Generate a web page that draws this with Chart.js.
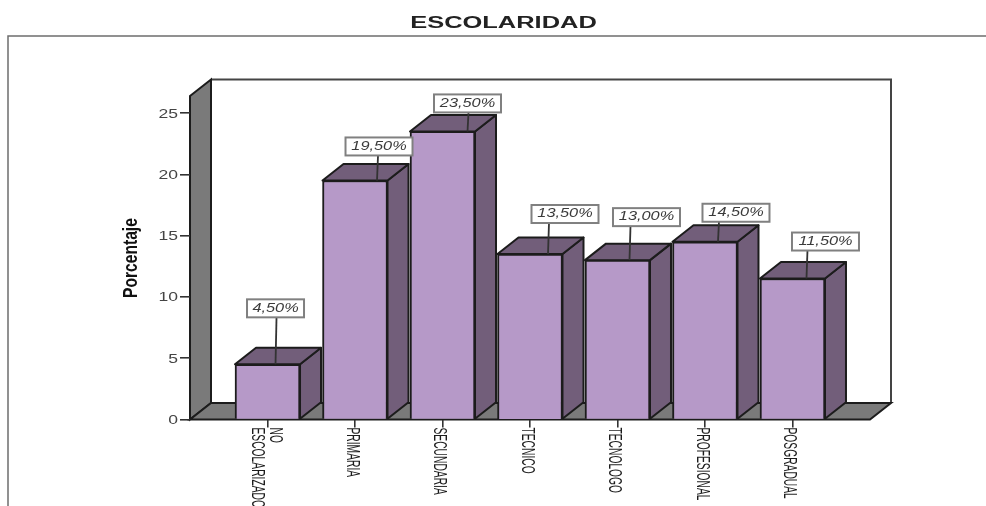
<!DOCTYPE html>
<html>
<head>
<meta charset="utf-8">
<title>Escolaridad</title>
<script src="https://cdn.jsdelivr.net/npm/chart.js@4"></script>
<style>
  html, body { margin: 0; padding: 0; background: #fff; overflow: hidden; }
  canvas { display: block; }
</style>
</head>
<body>
<canvas id="barChart" width="986" height="506"></canvas>
<script>
const categories = [['NO', 'ESCOLARIZADO'], ['PRIMARIA'], ['SECUNDARIA'], ['TECNICO'], ['TECNOLOGO'], ['PROFESIONAL'], ['POSGRADUAL']];
const porcentajes = [4.5, 19.5, 23.5, 13.5, 13.0, 14.5, 11.5];
const yTicks = [0, 5, 10, 15, 20, 25];

// callout placement per bar: box centre shift, gap above the bar, leader foot shift
const calloutDx = [8, 24, 25, 35, 29, 31, 33];
const calloutGap = [47, 25, 19, 31, 34, 20, 28];
const leaderDx = [8, 22, 25, 18, 12, 13, 14];

const DEPTH_X = 21;
const DEPTH_Y = 16.5;
const INK = '#1c1c1c';

// all text in this chart is stretched on one axis, so it goes through here
function stretchedText(ctx, text, x, y, opts) {
    ctx.save();
    ctx.translate(x, y);
    ctx.rotate(opts.rotation || 0);
    ctx.scale(opts.sx || 1, 1);
    ctx.font = opts.font;
    ctx.fillStyle = opts.color || '#333';
    ctx.textAlign = opts.align || 'center';
    ctx.textBaseline = 'middle';
    ctx.fillText(text, 0, 0);
    ctx.restore();
}

function poly(ctx, pts, fill) {
    ctx.beginPath();
    pts.forEach((p, i) => i ? ctx.lineTo(p[0], p[1]) : ctx.moveTo(p[0], p[1]));
    ctx.closePath();
    ctx.fillStyle = fill;
    ctx.fill();
    ctx.lineWidth = 2;
    ctx.strokeStyle = INK;
    ctx.stroke();
}

const box3d = {
    id: 'box3d',
    beforeDraw(chart) {
        const { ctx, chartArea: a } = chart;
        ctx.save();
        // outer frame, open on the right and bottom
        ctx.strokeStyle = '#6e6e6e';
        ctx.lineWidth = 1.5;
        ctx.beginPath();
        ctx.moveTo(8, 506);
        ctx.lineTo(8, 36);
        ctx.lineTo(986, 36);
        ctx.stroke();

        // back wall
        ctx.strokeStyle = '#444';
        ctx.lineWidth = 2;
        ctx.beginPath();
        ctx.moveTo(a.left + DEPTH_X, a.top - DEPTH_Y);
        ctx.lineTo(a.right + DEPTH_X, a.top - DEPTH_Y);
        ctx.lineTo(a.right + DEPTH_X, a.bottom - DEPTH_Y);
        ctx.stroke();

        // left wall and floor
        poly(ctx, [[a.left, a.top], [a.left + DEPTH_X, a.top - DEPTH_Y], [a.left + DEPTH_X, a.bottom - DEPTH_Y], [a.left, a.bottom]], '#7a7a7a');
        poly(ctx, [[a.left, a.bottom], [a.right, a.bottom], [a.right + DEPTH_X, a.bottom - DEPTH_Y], [a.left + DEPTH_X, a.bottom - DEPTH_Y]], '#7a7a7a');
        ctx.restore();
    },
    beforeDatasetsDraw(chart) {
        const ctx = chart.ctx;
        ctx.save();
        ctx.lineJoin = 'round';
        chart.getDatasetMeta(0).data.forEach(bar => {
            const left = bar.x - bar.width / 2;
            const right = bar.x + bar.width / 2;
            poly(ctx, [[right, bar.y], [right + DEPTH_X, bar.y - DEPTH_Y], [right + DEPTH_X, bar.base - DEPTH_Y], [right, bar.base]], '#725e7a');
            poly(ctx, [[left, bar.y], [left + DEPTH_X, bar.y - DEPTH_Y], [right + DEPTH_X, bar.y - DEPTH_Y], [right, bar.y]], '#725e7a');
        });
        ctx.restore();
    },
    afterDraw(chart) {
        const { ctx, chartArea: a, scales: { x, y } } = chart;

        stretchedText(ctx, 'ESCOLARIDAD', 503.5, 24, { font: 'bold 16px "Liberation Sans"', sx: 1.59, color: '#222' });
        stretchedText(ctx, 'Porcentaje', 131, 258, { font: 'bold 20px "Liberation Sans"', sx: 0.78, rotation: -Math.PI / 2, color: '#111' });

        yTicks.forEach(t => {
            stretchedText(ctx, String(t), 178, y.getPixelForValue(t) + 1, { font: '13px "Liberation Sans"', sx: 1.35, align: 'right', color: '#444' });
        });

        // category names run downwards from the tick
        categories.forEach((lines, i) => {
            const cx = x.getPixelForValue(i);
            const opts = { font: '19px "Liberation Sans"', sx: 0.54, rotation: Math.PI / 2, align: 'left', color: '#1c1c1c' };
            if (lines.length > 1) {
                stretchedText(ctx, lines[0], cx + 8, a.bottom + 8, opts);
                stretchedText(ctx, lines[1], cx - 10.5, a.bottom + 8, opts);
            } else {
                stretchedText(ctx, lines[0], cx - 3, a.bottom + 8, opts);
            }
        });

        // value callouts with leader lines
        chart.getDatasetMeta(0).data.forEach((bar, i) => {
            const label = porcentajes[i].toFixed(2).replace('.', ',') + '%';
            const w = porcentajes[i] < 10 ? 57 : 67;
            const h = 18;
            const cx = bar.x + calloutDx[i];
            const bottom = bar.y - calloutGap[i];

            ctx.save();
            ctx.strokeStyle = '#333';
            ctx.lineWidth = 1.8;
            ctx.beginPath();
            ctx.moveTo(bar.x + leaderDx[i] + 1, bottom);
            ctx.lineTo(bar.x + leaderDx[i], bar.y);
            ctx.stroke();
            ctx.fillStyle = '#fff';
            ctx.strokeStyle = '#808080';
            ctx.lineWidth = 2;
            ctx.fillRect(cx - w / 2, bottom - h, w, h);
            ctx.strokeRect(cx - w / 2, bottom - h, w, h);
            ctx.restore();

            stretchedText(ctx, label, cx, bottom - h / 2, { font: 'italic 12px "Liberation Sans"', sx: 1.36, color: '#3a3a3a' });
        });
    }
};

const ctx = document.getElementById('barChart').getContext('2d');
const barChart = new Chart(ctx, {
    type: 'bar',
    data: {
        datasets: [
            {
                label: 'Porcentaje',
                data: porcentajes.map((v, i) => ({ x: i, y: v })),
                backgroundColor: '#b699c8',
                borderColor: INK,
                borderWidth: 2,
                barThickness: 65
            }
        ]
    },
    options: {
        responsive: false,
        animation: false,
        layout: {
            padding: { left: 150, right: 116, top: 96, bottom: 56.5 }
        },
        scales: {
            x: {
                type: 'linear',
                offset: false,
                min: -0.886,
                max: 6.886,
                afterBuildTicks: scale => { scale.ticks = categories.map((c, i) => ({ value: i })); },
                afterFit: scale => { scale.height = 30; },
                ticks: { display: false },
                border: { display: false },
                grid: { offset: false, drawOnChartArea: false, tickLength: 8, tickColor: '#333', lineWidth: 1.6 }
            },
            y: {
                min: 0,
                max: 26.39,
                afterBuildTicks: scale => { scale.ticks = yTicks.map(v => ({ value: v })); },
                afterFit: scale => { scale.width = 40; },
                ticks: { display: false },
                border: { display: false },
                grid: { drawOnChartArea: false, tickLength: 10, tickColor: '#333', lineWidth: 1.6 }
            }
        },
        plugins: {
            legend: { display: false },
            tooltip: { enabled: false }
        }
    },
    plugins: [box3d]
});
</script>
</body>
</html>
